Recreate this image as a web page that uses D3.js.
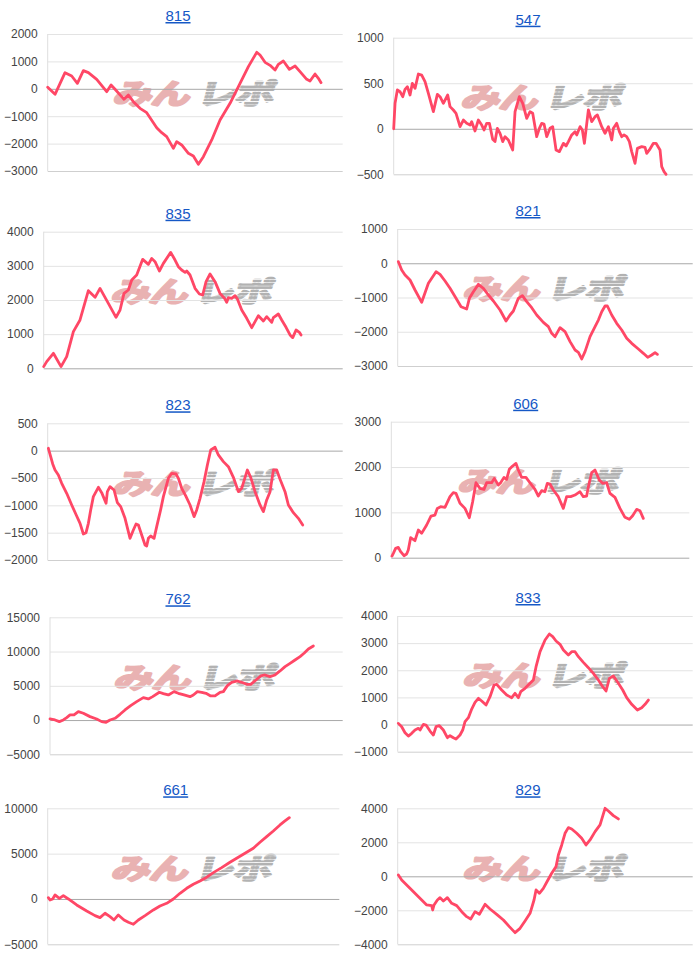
<!DOCTYPE html>
<html><head><meta charset="utf-8">
<script src="https://cdn.jsdelivr.net/npm/d3@7"></script>
<style>body{margin:0;background:#fff}svg{display:block}</style>
</head><body>
<svg id="c" width="700" height="965"></svg>
<script>
// ---- data: machine numbers, game counts (x) and 差枚 (y) ----
const machines = ["815","547","835","821","823","606","762","833","661","829"];
const gameMax = 8000;

const ticks815 = [2000,1000,0,-1000,-2000,-3000];
const games815 = [0,199,470,651,805,967,1103,1329,1600,1718,1826,2070,2188,2323,2504,2685,2956,3092,3227,3408,3498,3634,3815,3950,4086,4222,4448,4674,4945,5216,5442,5668,5758,5894,6030,6165,6256,6391,6554,6708,6843,7024,7114,7250,7340,7413];
const diff815 = [54,-202,589,467,200,662,589,346,-105,139,-19,-384,-226,-469,-713,-871,-1418,-1601,-1747,-2173,-1929,-2051,-2355,-2452,-2757,-2477,-1868,-1139,-530,200,808,1331,1234,966,856,686,893,1015,710,832,625,346,285,540,382,224];

const ticks547 = [1000,500,0,-500];
const games547 = [0,36,98,169,241,303,366,437,499,571,660,749,838,928,1061,1168,1240,1329,1445,1507,1596,1668,1775,1864,1953,2043,2087,2176,2265,2355,2417,2488,2560,2649,2711,2774,2845,2917,2979,3068,3184,3247,3362,3452,3559,3648,3719,3826,3898,3960,4022,4094,4183,4254,4344,4433,4540,4611,4674,4763,4852,4897,4986,5048,5102,5209,5298,5387,5450,5566,5655,5744,5833,5878,5967,6038,6101,6163,6234,6306,6368,6457,6520,6636,6725,6770,6841,6948,7019,7126,7171,7233,7287];
const diff547 = [0,279,426,407,352,433,462,371,499,444,601,590,517,389,188,378,352,279,371,243,206,170,23,96,60,41,78,-24,96,41,-13,60,60,-116,-141,5,-50,-141,-87,-123,-233,188,352,279,115,188,170,-87,5,60,52,-87,5,23,-233,-251,-160,-189,-141,-68,-32,-68,23,-13,-160,206,78,133,151,23,-50,23,-123,5,60,-32,-87,-68,-87,-141,-251,-379,-215,-196,-204,-270,-233,-160,-160,-233,-416,-471,-500];

const ticks835 = [4000,3000,2000,1000,0];
const games835 = [0,80,259,464,615,794,972,1195,1374,1507,1730,1935,2043,2149,2265,2355,2488,2649,2801,2890,2979,3095,3202,3398,3514,3603,3692,3782,3826,3915,4049,4165,4254,4344,4451,4584,4718,4852,4897,4941,5030,5120,5182,5298,5432,5566,5655,5744,5878,5967,6101,6145,6279,6368,6484,6591,6663,6752,6841,6886];
const diff835 = [49,195,439,49,341,1073,1415,2273,2078,2341,1902,1493,1707,2195,2293,2585,2732,3190,3044,3219,3122,2849,3073,3395,3171,2976,2878,2810,2849,2732,2341,2176,2146,2537,2761,2537,2195,2029,1932,2068,2049,2127,2029,1707,1463,1190,1366,1541,1385,1512,1346,1483,1590,1415,1200,976,898,1122,1054,976];

const ticks821 = [1000,0,-1000,-2000,-3000];
const games821 = [18,108,199,334,470,651,832,1040,1148,1284,1419,1582,1718,1871,1944,2052,2188,2323,2459,2595,2775,2938,3046,3137,3272,3381,3498,3634,3770,3950,4086,4176,4267,4402,4538,4674,4810,4900,4990,5080,5216,5352,5442,5533,5623,5686,5804,5939,6075,6210,6346,6527,6662,6780,6888,6979,7042];
const diff821 = [46,-197,-343,-489,-781,-1141,-586,-246,-324,-518,-732,-1024,-1268,-1336,-1024,-830,-616,-732,-927,-1102,-1365,-1686,-1511,-1394,-1024,-946,-1122,-1297,-1511,-1725,-1852,-2046,-2143,-1881,-1997,-2289,-2533,-2601,-2795,-2581,-2143,-1852,-1657,-1414,-1248,-1248,-1511,-1754,-1949,-2192,-2338,-2504,-2630,-2747,-2679,-2611,-2659];

const ticks823 = [500,0,-500,-1000,-1500,-2000];
const games823 = [18,81,136,199,289,380,515,651,786,877,967,1040,1103,1166,1238,1374,1464,1582,1618,1690,1799,1889,1980,2097,2233,2323,2396,2459,2549,2640,2685,2730,2793,2884,2956,3065,3137,3272,3363,3480,3544,3634,3743,3860,3969,4041,4131,4240,4330,4421,4538,4628,4764,4900,5035,5171,5261,5352,5415,5505,5623,5758,5849,5939,6030,6120,6210,6301,6436,6527,6662,6798,6916];
const diff823 = [43,-110,-244,-354,-445,-598,-780,-994,-1195,-1329,-1524,-1500,-1329,-1085,-841,-671,-768,-963,-750,-659,-720,-951,-1024,-1238,-1604,-1451,-1341,-1360,-1543,-1726,-1744,-1604,-1561,-1604,-1390,-1073,-841,-506,-415,-427,-506,-689,-829,-994,-1207,-1085,-872,-567,-262,12,61,-79,-201,-293,-488,-750,-689,-488,-354,-488,-750,-994,-1116,-902,-750,-354,-354,-524,-750,-994,-1134,-1238,-1360];

const ticks606 = [3000,2000,1000,0];
const games606 = [18,54,116,188,251,340,412,456,519,635,725,814,949,1065,1172,1235,1324,1441,1575,1664,1736,1844,1978,2094,2184,2273,2380,2488,2559,2694,2765,2873,2935,3025,3096,3168,3257,3347,3410,3499,3615,3768,3857,3947,4036,4125,4188,4260,4349,4483,4618,4707,4815,4931,5065,5155,5244,5290,5379,5468,5584,5673,5781,5870,6005,6139,6273,6389,6479,6586,6676,6765];
const diff606 = [37,96,206,228,132,44,81,169,441,375,610,537,721,919,941,1088,1125,1110,1346,1434,1419,1199,1088,882,1235,1654,1529,1507,1654,1654,1750,1603,1654,1772,1728,1949,2022,2081,1934,1772,1772,1603,1507,1360,1478,1456,1640,1625,1493,1346,1088,1346,1346,1382,1456,1346,1360,1566,1875,1934,1713,1640,1654,1419,1331,1088,890,846,926,1066,1037,868];

const ticks762 = [15000,10000,5000,0,-5000];
const games762 = [0,137,255,364,456,547,656,775,911,1093,1276,1412,1531,1640,1777,1914,2050,2205,2369,2551,2688,2806,2989,3098,3235,3390,3508,3663,3827,3918,4028,4146,4264,4392,4510,4647,4738,4847,4966,5121,5239,5376,5485,5631,5759,5877,6014,6151,6287,6424,6561,6697,6834,6943,7062,7198];
const diff762 = [159,14,-230,14,354,743,743,1230,987,500,159,-230,-328,14,257,841,1473,2105,2689,3273,3078,3419,4052,3857,3662,4149,3906,3662,3419,3662,4149,4052,3906,3517,3517,4052,4149,5025,5512,5706,5512,5220,5220,5852,6436,6582,6339,6582,7166,7799,8286,8772,9259,9745,10377,10815];

const ticks833 = [4000,3000,2000,1000,0,-1000];
const games833 = [18,108,199,289,380,470,560,606,696,768,877,967,1040,1130,1238,1347,1419,1510,1582,1690,1763,1826,1917,2007,2097,2188,2278,2396,2504,2613,2685,2820,2956,3092,3182,3272,3336,3453,3589,3679,3752,3860,3996,4113,4204,4294,4402,4493,4628,4719,4809,4900,5035,5171,5306,5442,5560,5650,5740,5849,5984,6102,6210,6346,6500,6617,6708,6798];
const diff833 = [44,-79,-300,-423,-324,-201,-140,-201,7,-17,-238,-386,-79,-42,-201,-484,-410,-484,-533,-386,-201,106,253,573,818,966,867,720,1027,1457,1482,1273,1088,990,1150,990,1211,1334,1519,1641,2133,2686,3115,3337,3238,3079,2956,2747,2563,2686,2686,2501,2292,2096,1887,1641,1396,1236,1703,1789,1519,1273,990,745,536,622,745,904];

const ticks661 = [10000,5000,0,-5000];
const games661 = [18,64,137,201,320,430,567,795,1070,1298,1435,1573,1710,1819,1938,2094,2213,2350,2487,2670,2898,3081,3264,3447,3630,3813,3995,4178,4315,4544,4773,5001,5184,5413,5641,5824,6007,6190,6373,6510,6629];
const diff661 = [148,-110,0,442,74,368,0,-662,-1322,-1837,-2057,-1579,-1947,-2315,-1763,-2315,-2572,-2792,-2315,-1837,-1212,-772,-478,0,625,1176,1617,1985,2279,2904,3455,4044,4485,5036,5588,6250,6875,7500,8162,8603,8971];

const ticks829 = [4000,2000,0,-2000,-4000];
const games829 = [18,108,244,380,515,651,786,922,949,985,1076,1148,1238,1347,1464,1600,1736,1871,1980,2097,2215,2368,2504,2685,2866,3028,3182,3318,3453,3589,3697,3752,3842,3950,4059,4176,4294,4357,4448,4538,4628,4719,4855,4990,5108,5216,5352,5487,5623,5713,5849,5984];
const diff829 = [78,-216,-510,-804,-1099,-1393,-1687,-1726,-1981,-1687,-1393,-1255,-1452,-1255,-1589,-1726,-2079,-2373,-2510,-2079,-2236,-1648,-1922,-2236,-2569,-2962,-3315,-3060,-2628,-2177,-1393,-804,-1001,-706,-275,176,569,1255,1843,2529,2863,2784,2529,2235,1843,2137,2627,3020,4000,3843,3569,3373];

const series = [
  {games:games815, diff:diff815, ticks:ticks815},
  {games:games547, diff:diff547, ticks:ticks547},
  {games:games835, diff:diff835, ticks:ticks835},
  {games:games821, diff:diff821, ticks:ticks821},
  {games:games823, diff:diff823, ticks:ticks823},
  {games:games606, diff:diff606, ticks:ticks606},
  {games:games762, diff:diff762, ticks:ticks762},
  {games:games833, diff:diff833, ticks:ticks833},
  {games:games661, diff:diff661, ticks:ticks661},
  {games:games829, diff:diff829, ticks:ticks829}
].map((s,i)=>Object.assign({name:machines[i]}, s));

// ---- layout (pixels) ----
const layout = [
  {left:47.7,  right:342.7, top:34,    bottom:171,   tx:178},
  {left:393.7, right:692.7, top:37.7,  bottom:174.3, tx:528},
  {left:43.7,  right:342.7, top:231.7, bottom:368.3, tx:178},
  {left:397.7, right:692.7, top:229,   bottom:366,   tx:528},
  {left:47.7,  right:342.7, top:423.3, bottom:560,   tx:178},
  {left:391.3, right:689.3, top:421.7, bottom:557.7, tx:525.7},
  {left:50,    right:342.7, top:617.3, bottom:754.3, tx:178},
  {left:397.7, right:692.7, top:616,   bottom:751.7, tx:528},
  {left:47.7,  right:339.3, top:808.3, bottom:944.3, tx:175.7},
  {left:397.7, right:692.7, top:808.3, bottom:944.3, tx:528}
];

const svg = d3.select("#c");
const defs = svg.append("defs");
const pat = defs.append("pattern").attr("id","stripe")
  .attr("patternUnits","userSpaceOnUse").attr("width",10).attr("height",4.6);
pat.append("rect").attr("width",10).attr("height",3.5).attr("fill","#b2b2b2");

const FONT = "Arial, 'Liberation Sans', sans-serif";

series.forEach((s,i)=>{
  const L = layout[i];
  const x = d3.scaleLinear().domain([0, gameMax]).range([L.left, L.right]);
  const y = d3.scaleLinear().domain(d3.extent(s.ticks)).range([L.bottom, L.top]);
  const g = svg.append("g");

  // watermark
  const cx = (L.left + L.right)/2, cy = L.top + 58;
  const wm = g.append("g").attr("transform",`translate(${cx},${cy})`);
  wm.append("text").text("みん")
    .attr("transform","translate(-4,0) skewX(-14) scale(1,0.72)")
    .attr("text-anchor","end").attr("dominant-baseline","central")
    .attr("font-family","'Noto Sans CJK JP'").attr("font-weight",700)
    .attr("font-size",39).attr("letter-spacing",-1)
    .attr("fill","#e9b2b2").attr("stroke","#e9b2b2").attr("stroke-width",3.2)
    .attr("stroke-linejoin","round");
  wm.append("text").text("レポ")
    .attr("transform","translate(4,0) skewX(-14) scale(1,0.72)")
    .attr("text-anchor","start").attr("dominant-baseline","central")
    .attr("font-family","'Noto Sans CJK JP'").attr("font-weight",700)
    .attr("font-size",39).attr("letter-spacing",-1)
    .attr("fill","url(#stripe)").attr("stroke","url(#stripe)").attr("stroke-width",3.2)
    .attr("stroke-linejoin","round");

  // axis + gridlines
  const ax = g.append("g").attr("transform",`translate(${L.left},0)`)
    .call(d3.axisLeft(y).tickValues(s.ticks).tickSize(-(L.right-L.left)).tickPadding(10).tickFormat(d3.format("d")));
  ax.select(".domain").remove();
  ax.selectAll(".tick line")
    .attr("stroke", d => d===0 ? "#a8a8a8" : (d===d3.min(s.ticks) ? "#cfcfcf" : "#e3e3e3"))
    .attr("stroke-width",1);
  ax.selectAll(".tick text").attr("fill","#444").attr("font-size",12).attr("font-family",FONT);

  g.append("line").attr("x1",L.left).attr("x2",L.left).attr("y1",L.top).attr("y2",L.bottom)
    .attr("stroke","#dedede");

  // data line
  const line = d3.line().x((d,j)=>x(s.games[j])).y(d=>y(d));
  g.append("path").datum(s.diff).attr("d",line)
    .attr("fill","none").attr("stroke","#ff4766").attr("stroke-width",2.8)
    .attr("stroke-linejoin","round").attr("stroke-linecap","round");

  // title
  g.append("text").text(s.name).attr("x",L.tx).attr("y",L.top-13)
    .attr("text-anchor","middle").attr("font-family",FONT).attr("font-size",15)
    .attr("fill","#1558c6").style("text-decoration","underline");
});
</script>
</body></html>
